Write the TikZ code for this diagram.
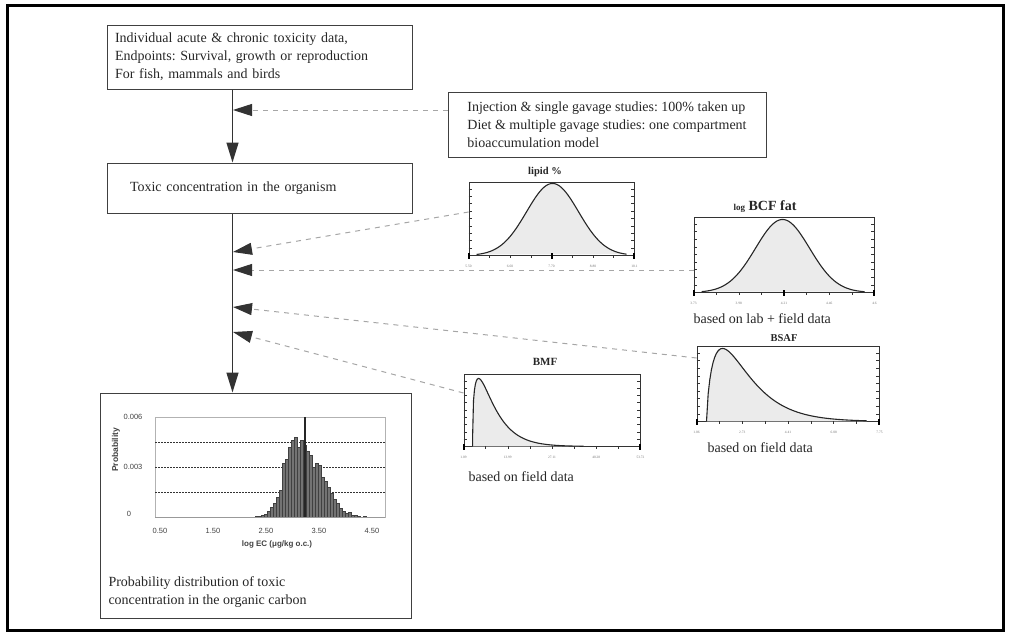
\documentclass[tikz,border=0pt]{standalone}
\usepackage{fontspec}
\setmainfont{Liberation Serif}
\newfontfamily\plotfont{Liberation Sans}
\usetikzlibrary{arrows.meta,calc}
\frenchspacing

\tikzset{
  box/.style={draw=black!75, line width=1pt, text=black!85, align=left,
    inner xsep=8pt, font=\fontsize{14}{18}\selectfont},
  chart/.style={draw=black!80, line width=0.9pt, inner sep=0pt},
  under/.style={fill=black!8},
  curve/.style={draw=black!85, line width=1.1pt},
  charttick/.style={draw=black!80, line width=0.5pt},
  flow/.style={draw=black!80, line width=1.3pt, -{Triangle[length=20pt, width=12pt]}},
  feed/.style={draw=black!35, line width=1pt, dash pattern=on 5pt off 5pt,
    -{Triangle[length=19pt, width=12pt, color=black!80]}},
  note/.style={text=black!85, font=\fontsize{14}{18}\selectfont, anchor=west},
  charttitle/.style={text=black!85, font=\bfseries\fontsize{10.5}{12}\selectfont},
  ticklabel/.style={text=black!55, font=\fontsize{3.5}{4}\selectfont},
  histbar/.style={fill=black!55, draw=black!75, line width=0.4pt},
  gridline/.style={draw=black!80, line width=0.8pt, dash pattern=on 1.5pt off 1.5pt},
  plotlabel/.style={text=black!75, font=\plotfont\fontsize{7.5}{9}\selectfont},
}

\begin{document}
\begin{tikzpicture}[x=1pt, y=-1pt]
\useasboundingbox (0,0) rectangle (1010,640);
\draw[line width=3pt] (7,5) rectangle (1003,630);

% main chain
\node[box, minimum width=305pt, minimum height=64pt, text width=289pt] (data) at (259.5,57)
  {Individual acute \& chronic toxicity data,\\ Endpoints: Survival, growth or reproduction\\ For fish, mammals and birds};
\node[box, minimum width=305pt, minimum height=50pt, text width=259pt, inner xsep=23pt] (organism) at (259.5,188)
  {Toxic concentration in the organism};
\node[box, minimum width=311pt, minimum height=225pt] (pd) at (255.5,505.5) {};
\node[box, draw=none, anchor=west, inner xsep=4pt] (pdlabel) at (104,592)
  {Probability distribution of toxic\\ concentration in the organic carbon};
\node[box, minimum width=318pt, minimum height=65pt] (uptake) at (607,124.5)
  {Injection \& single gavage studies: 100\% taken up\\ Diet \& multiple gavage studies: one compartment\\ bioaccumulation model};

\draw[flow] ([xshift=126pt]data.south west) -- ([xshift=126pt]organism.north west);
\draw[flow] ([xshift=126pt]organism.south west) -- ([xshift=133pt]pd.north west);

% small distributions
\node[chart, minimum width=165pt, minimum height=73pt] (lipid) at (551.5,218.5) {};
\node[chart, minimum width=180pt, minimum height=75pt] (bcf) at (784,254.5) {};
\node[chart, minimum width=182pt, minimum height=75pt] (bsaf) at (788,383.5) {};
\node[chart, minimum width=176pt, minimum height=72pt] (bmf) at (552,410) {};

\begin{scope}[shift={(lipid.south west)}, y=1pt]
  \fill[under] plot[domain=8:158, samples=70] (\x,{72*exp(-0.5*((\x-84)/26)*((\x-84)/26))}) -- cycle;
  \draw[curve] plot[domain=8:158, samples=70] (\x,{72*exp(-0.5*((\x-84)/26)*((\x-84)/26))});
\end{scope}
\begin{scope}[shift={(bcf.south west)}, y=1pt]
  \fill[under] plot[domain=8:171, samples=70] (\x,{73*exp(-0.5*((\x-89)/27)*((\x-89)/27))}) -- cycle;
  \draw[curve] plot[domain=8:171, samples=70] (\x,{73*exp(-0.5*((\x-89)/27)*((\x-89)/27))});
\end{scope}
\begin{scope}[shift={(bsaf.south west)}, y=1pt]
  \fill[under] (10,0) -- plot[domain=10.01:170, samples=100] (\x,{73*exp(0.7*(ln((\x-10)/16)+1-(\x-10)/16))}) -- (170,0) -- cycle;
  \draw[curve] (10,0) -- plot[domain=10.01:170, samples=100] (\x,{73*exp(0.7*(ln((\x-10)/16)+1-(\x-10)/16))});
\end{scope}
\begin{scope}[shift={(bmf.south west)}, y=1pt]
  \fill[under] (9,0) -- plot[domain=9.01:120, samples=120] (\x,{68*exp(0.4*(ln((\x-9)/6)+1-(\x-9)/6))}) -- (120,0) -- cycle;
  \draw[curve] (9,0) -- plot[domain=9.01:120, samples=120] (\x,{68*exp(0.4*(ln((\x-9)/6)+1-(\x-9)/6))});
\end{scope}

\foreach \c/\l in {lipid/{5.50,6.60,7.70,8.80,10.1}, bcf/{3.73,3.98,4.21,4.46,4.6},
    bsaf/{1.06,2.73,4.41,6.08,7.75}, bmf/{1.09,13.99,27.11,40.28,53.72}} {
  \foreach \f in {0.1,0.2,...,0.9} {
    \draw[charttick] ($(\c.south west)!\f!(\c.north west)$) -- ++(3,0);
    \draw[charttick] ($(\c.south east)!\f!(\c.north east)$) -- ++(-3,0);
  }
  \foreach \f in {0.125,0.25,...,0.9}
    \draw[charttick] ($(\c.south west)!\f!(\c.south east)$) -- ++(0,3);
  \foreach \f in {0,1}
    \draw[line width=2pt] ($(\c.south west)!\f!(\c.south east)+(0,-2)$) -- ++(0,6);
  \foreach \t [count=\i] in \l
    \node[ticklabel] at ($(\c.south west)!{(\i-1)/4}!(\c.south east)+(0,11)$) {\t};
}
\foreach \c in {lipid,bcf}
  \draw[line width=2pt] ($(\c.south west)!0.5!(\c.south east)+(0,-2)$) -- ++(0,6);

\node[charttitle] (lipidtitle) at (545,172) {lipid \%};
\node[charttitle, font=\bfseries\fontsize{14}{16}\selectfont] (bcftitle) at (765,207)
  {{\fontsize{9}{10}\selectfont log} BCF fat};
\node[charttitle] (bsaftitle) at (784,338) {BSAF};
\node[charttitle, font=\bfseries\fontsize{11}{13}\selectfont] (bmftitle) at (545,362) {BMF};

\node[note] (bcfnote) at (690,319) {based on lab + field data};
\node[note] (bsafnote) at (704,448) {based on field data};
\node[note] (bmfnote) at (465,477) {based on field data};

% inputs on the main chain
\coordinate (tap0) at (233,110);
\coordinate (tap1) at (233,252);
\coordinate (tap2) at (233,270);
\coordinate (tap3) at (233,307);
\coordinate (tap4) at (233,332);
\draw[feed] ([yshift=14.5pt]uptake.west) -- (tap0);
\draw[feed] ([yshift=6.5pt]lipid.west) -- (tap1);
\draw[feed] ([yshift=-15.5pt]bcf.west) -- (tap2);
\draw[feed] ([yshift=25.5pt]bsaf.west) -- (tap3);
\draw[feed] ([yshift=17pt]bmf.west) -- (tap4);

% histogram of the toxic concentration
\draw[black!30, line width=0.6pt] (155,417) rectangle (385,517);
\foreach \g in {442,467,492}
  \draw[gridline] (155,\g) -- (385,\g);
\foreach \x/\h in {255/1, 258/1, 261/2, 264/3, 267/6, 270/10, 273/14, 276/20, 279/27,
    282/54, 285/58, 288/70, 291/77, 294/80, 297/70, 300/77, 303/72, 306/66, 309/62,
    312/50, 315/54, 318/52, 321/40, 324/36, 327/30, 330/24, 333/18, 336/14, 339/9,
    342/6, 345/4, 348/5, 351/2, 354/2, 357/1, 363/1}
  \draw[histbar] (\x,517) rectangle ++(3,-\h);
\draw[black!85, line width=1.2pt] (305,517) -- (305,417);
\draw[black!40, line width=0.6pt] (155,517) -- (385,517);
\node[plotlabel] at (133,417) {0.006};
\node[plotlabel] at (133,467) {0.003};
\node[plotlabel] at (129,514) {0};
\foreach \v [count=\i] in {0.50,1.50,2.50,3.50,4.50}
  \node[plotlabel] at ({160+(\i-1)*53},531) {\v};
\node[plotlabel, font=\plotfont\bfseries\fontsize{8.5}{10}\selectfont, rotate=90] at (116,450) {Probability};
\node[plotlabel, font=\plotfont\bfseries\fontsize{8}{10}\selectfont] at (277,544) {log EC (μg/kg o.c.)};
\end{tikzpicture}
\end{document}
